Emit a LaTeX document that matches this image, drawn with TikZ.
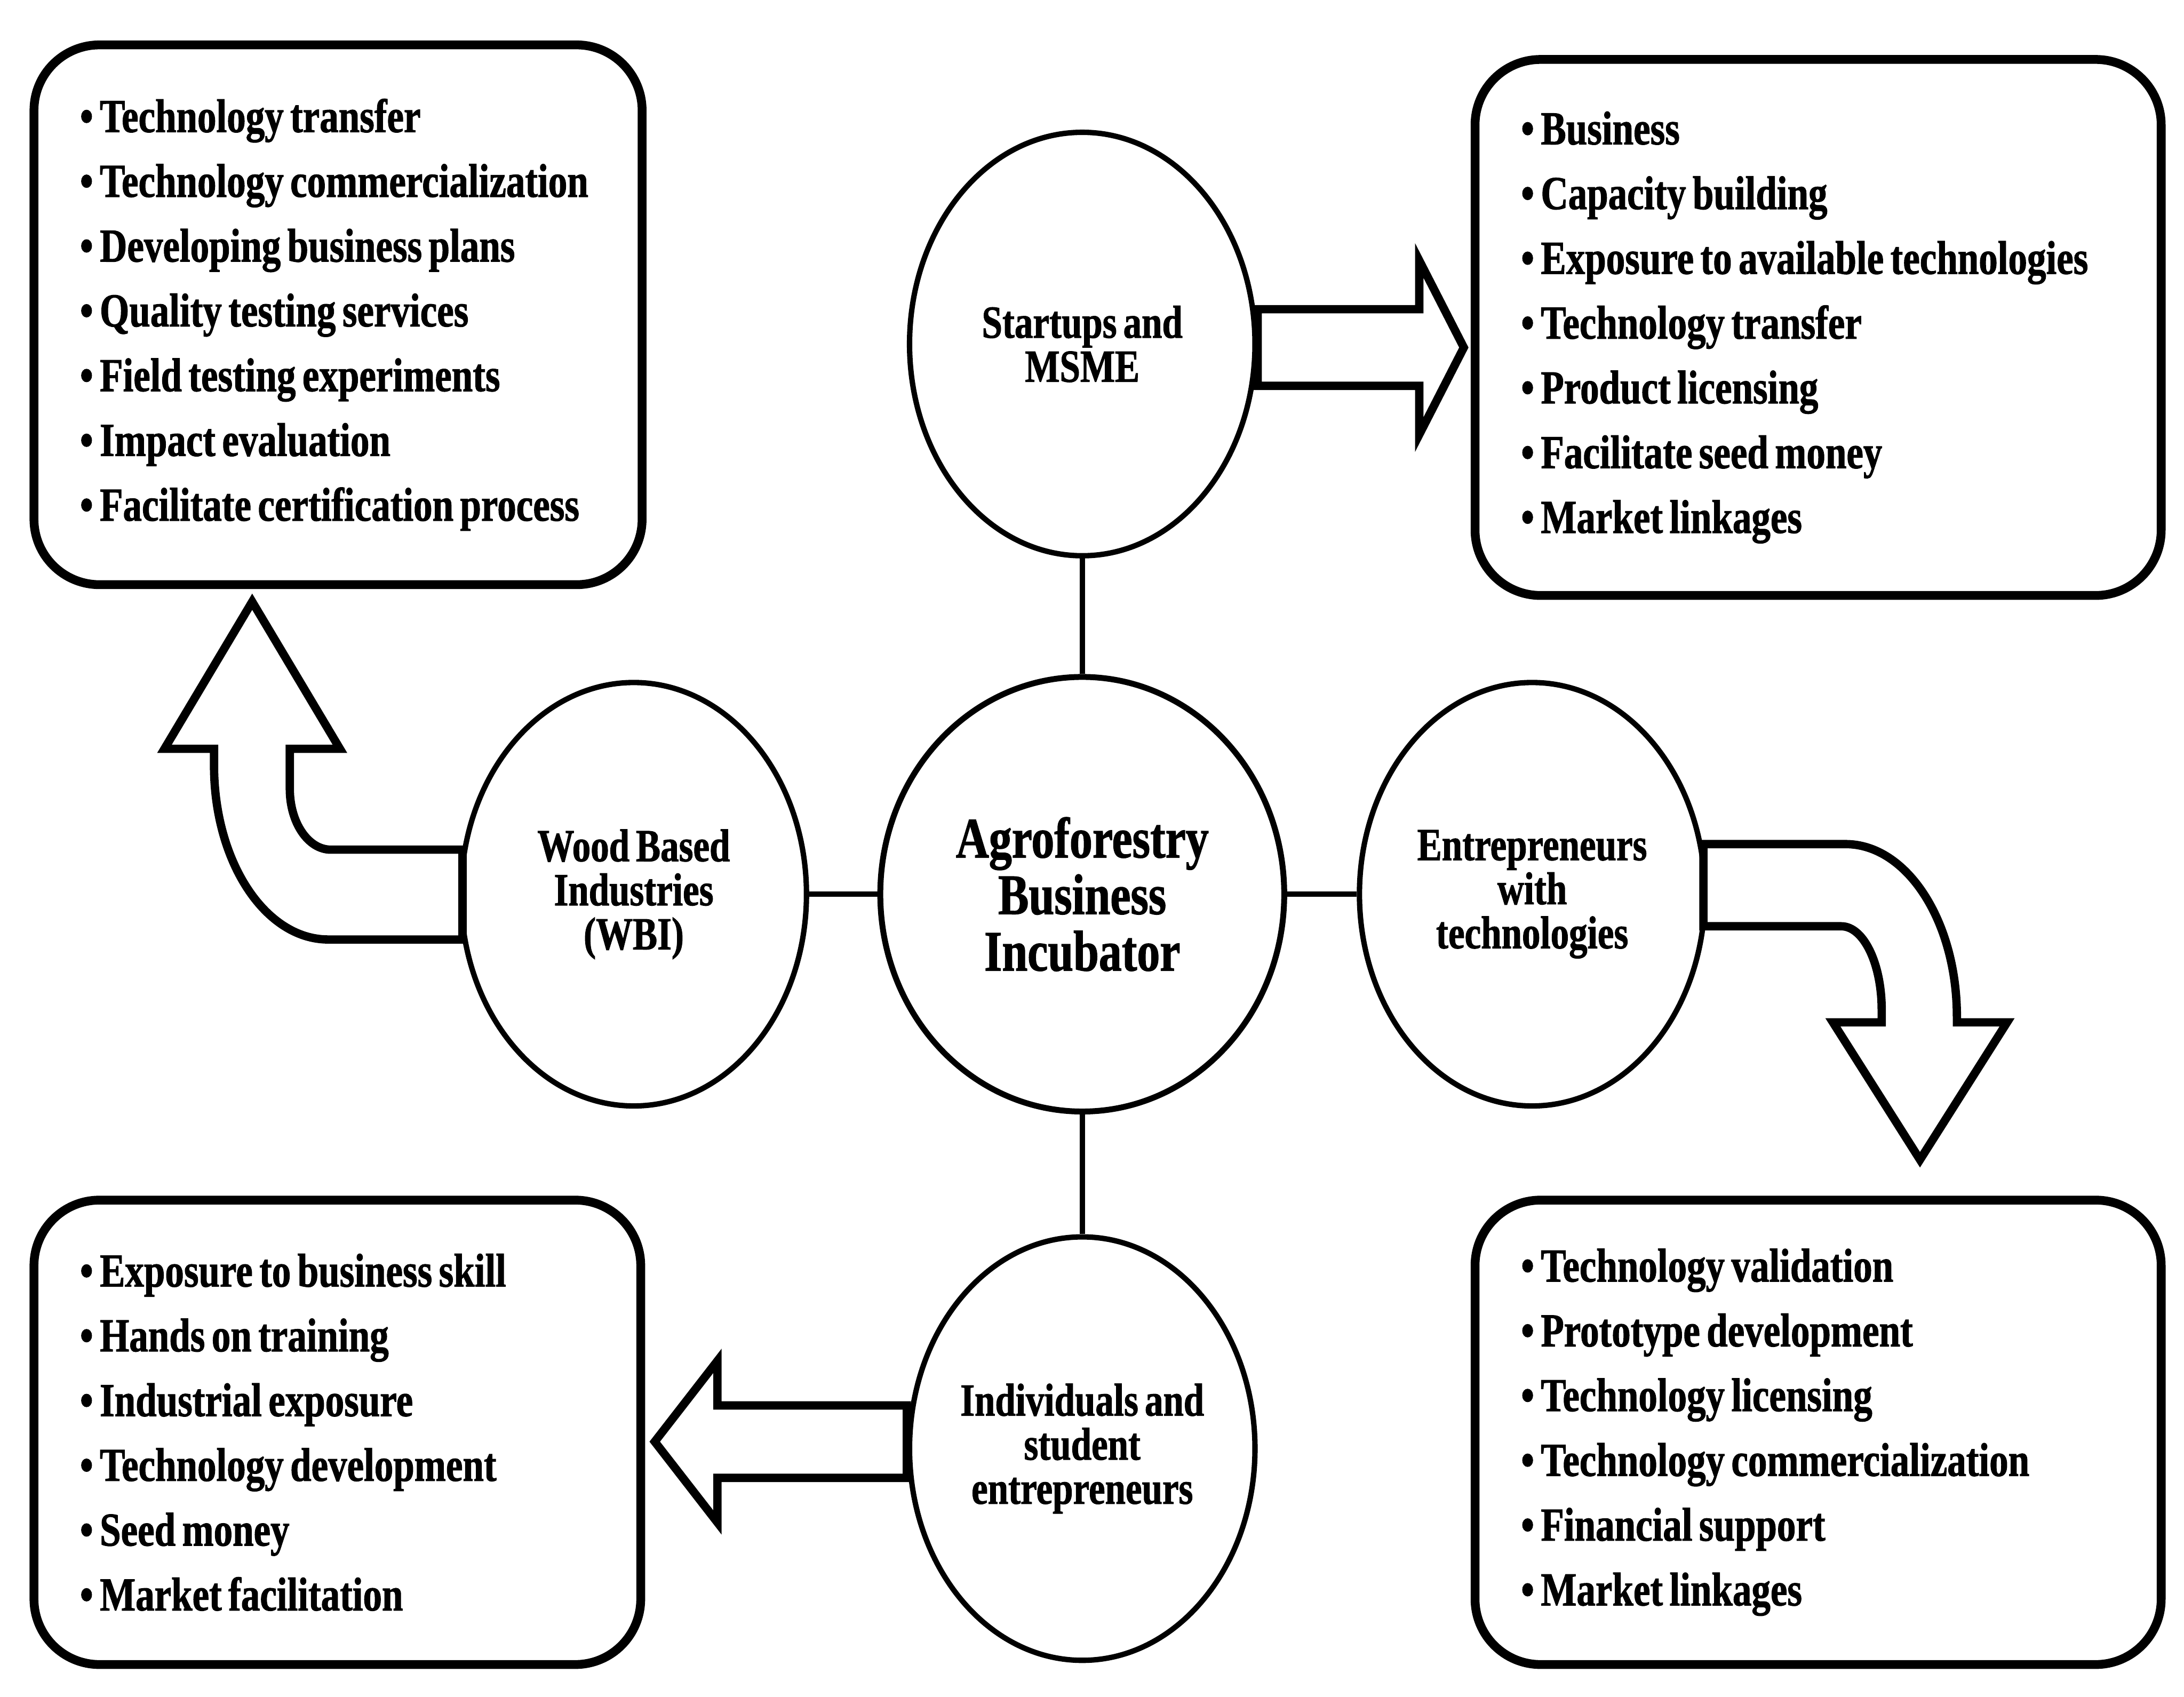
\documentclass[tikz,border=0pt]{standalone}
\usepackage{fontspec}
\setmainfont[FakeStretch=0.80, WordSpace=0.7, BoldFeatures={FakeBold=1.2}]{Liberation Serif}
\usepackage[none]{hyphenat}
\usepackage{tikz}
\usetikzlibrary{shapes.geometric}

\begin{document}
\begin{tikzpicture}[actor/.style = {draw, ellipse, line width=1.1pt, minimum width=2.48cm, minimum height=3.04cm, inner sep=0pt, align=center, font=\fontsize{9.4}{9}\selectfont\bfseries},
                core/.style = {draw, ellipse, line width=1.2pt, minimum width=2.9cm, minimum height=3.12cm, inner sep=0pt, align=center, font=\fontsize{11.7}{11.55}\selectfont\bfseries},
                list/.style = {draw, rounded corners=0.47cm, line width=1.8pt, align=flush left, inner xsep=0.33cm, inner ysep=0pt, font=\fontsize{9.67}{13.23}\selectfont\bfseries},
                bigarrow/.style = {draw, fill=white, line width=1.7pt, line join=miter},
                link/.style = {line width=1.1pt}]
                \useasboundingbox (0,0) rectangle (15.68,12.18);

                \node[core] at (7.77, 5.76) (ABI) {Agroforestry\\Business\\Incubator};
                \node[actor] at (7.77, 9.71) (SM) {Startups and\\MSME};
                \node[actor] at (4.55, 5.76) (WBI) {Wood Based\\Industries\\(WBI)};
                \node[actor] at (11.0, 5.76) (EWT) {Entrepreneurs\\with\\technologies};
                \node[actor] at (7.77, 1.78) (ISE) {Individuals and\\student\\entrepreneurs};

                \node[list, text width=3.706cm, minimum height=3.875cm] at (2.427, 9.92) (WBIlist) {• Technology transfer\\• Technology commercialization\\• Developing business plans\\• Quality testing services\\• Field testing experiments\\• Impact evaluation\\• Facilitate certification process};
                \node[list, text width=4.266cm, minimum height=3.848cm] at (13.053, 9.829) (SMlist) {• Business\\• Capacity building\\• Exposure to available technologies\\• Technology transfer\\• Product licensing\\• Facilitate seed money\\• Market linkages};
                \node[list, text width=3.696cm, minimum height=3.334cm] at (2.422, 1.897) (ISElist) {• Exposure to business skill\\• Hands on training\\• Industrial exposure\\• Technology development\\• Seed money\\• Market facilitation};
                \node[list, text width=4.266cm, minimum height=3.334cm] at (13.053, 1.897) (EWTlist) {• Technology validation\\• Prototype development\\• Technology licensing\\• Technology commercialization\\• Financial support\\• Market linkages};

                \draw[link] (ABI) -- (SM);
                \draw[link] (ABI) -- (WBI);
                \draw[link] (ABI) -- (EWT);
                \draw[link] (ABI) -- (ISE);

                \draw[bigarrow] ([yshift=0.25cm]SM.east) -- ++(1.16,0) -- ++(0,0.35) -- ++(0.32,-0.625) -- ++(-0.32,-0.625) -- ++(0,0.35) -- ++(-1.16,0) -- cycle;
                \draw[bigarrow] ([yshift=0.31cm]ISE.west) -- ++(-1.36,0) -- ++(0,0.32) -- ++(-0.45,-0.58) -- ++(0.45,-0.58) -- ++(0,0.32) -- ++(1.36,0) -- cycle;
                \draw[bigarrow] ([xshift=-0.03cm, yshift=0.36cm]EWT.east) -- ++(1.02,0) arc[start angle=90, end angle=0, x radius=0.8cm, y radius=1.24cm] -- ++(0,-0.04) -- ++(0.36,0) -- ++(-0.625,-0.986) -- ++(-0.625,0.986) -- ++(0.35,0) -- ++(0,0.09) arc[start angle=0, end angle=90, x radius=0.29cm, y radius=0.6cm] -- ++(-0.99,0) -- cycle;
                \draw[bigarrow] ([xshift=0.03cm, yshift=0.32cm]WBI.west) -- ++(-0.946,0) arc[start angle=270, end angle=180, x radius=0.294cm, y radius=0.435cm] -- ++(0,0.289) -- ++(0.36,0) -- ++(-0.63,1.056) -- ++(-0.63,-1.056) -- ++(0.356,0) -- ++(0,-0.12) arc[start angle=180, end angle=270, x radius=0.82cm, y radius=1.249cm] -- ++(0.964,0) -- cycle;
            \end{tikzpicture}
\end{document}
